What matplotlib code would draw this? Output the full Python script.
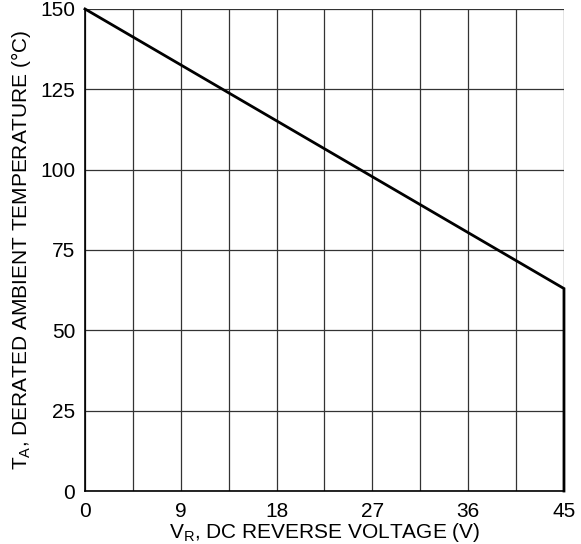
import matplotlib
matplotlib.use("Agg")
import matplotlib.pyplot as plt
import numpy as np

plt.rcParams['font.family'] = ['Liberation Sans', 'DejaVu Sans']

# curva de derating
voltaje = [0, 45, 45]
temperatura = [150, 63, 0]

x_ticks = [0, 9, 18, 27, 36, 45]
y_ticks = [0, 25, 50, 75, 100, 125, 150]
x_grid = np.arange(0, 45.1, 4.5)

fig = plt.figure(figsize=(5.81, 5.44), dpi=100)
ax = fig.add_axes([0.1463, 0.0974, 0.8244, 0.8861])

for xv in x_grid:
    ax.axvline(xv, color='#333333', lw=0.9, zorder=1)
for yv in y_ticks:
    ax.axhline(yv, color='#333333', lw=0.9, zorder=1)

ax.plot(voltaje, temperatura, color='black', lw=2, zorder=3,
        solid_joinstyle='miter', clip_on=False)

ax.set_xlim(0, 45)
ax.set_ylim(0, 150)
ax.set_xticks(x_ticks)
ax.set_yticks(y_ticks)
ax.tick_params(length=0, labelsize=15)
ax.tick_params(axis='x', pad=8)
ax.tick_params(axis='y', pad=7)
for s in ['top', 'right']:
    ax.spines[s].set_visible(False)
for s in ['left', 'bottom']:
    ax.spines[s].set_linewidth(1.2)

ax.set_xlabel('V$_\\mathregular{R}$, DC REVERSE VOLTAGE (V)', fontsize=15, labelpad=0)
ax.set_ylabel('T$_\\mathregular{A}$, DERATED AMBIENT TEMPERATURE (°C)', fontsize=15, labelpad=5)

fig.savefig('out.png', dpi=100)
